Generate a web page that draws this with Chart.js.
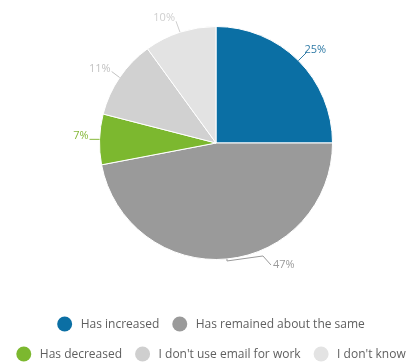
<!DOCTYPE html>
<html>
<head>
<meta charset="utf-8">
<script src="https://cdn.jsdelivr.net/npm/chart.js@4"></script>
<style>
  html, body { margin: 0; padding: 0; background: #ffffff; }
  #wrap { width: 412px; height: 363px; position: relative; }
</style>
</head>
<body>
<div id="wrap"><canvas id="c"></canvas></div>
<script>
// ---- data ----
const categories = ["Has increased", "Has remained about the same", "Has decreased", "I don't use email for work", "I don't know"];
const values = [25, 47, 7, 11, 10];
const valueLabels = ["25%", "47%", "7%", "11%", "10%"];

// ---- styles ----
const sliceColors = ["#0b6fa4", "#9a9a9a", "#7cb82f", "#d1d1d1", "#e3e3e3"];
const labelColors = ["#2f7aa6", "#9a9a9a", "#86b83a", "#c2c2c2", "#cfcfcf"];
const legendColors = ["#0b6fa4", "#9a9a9a", "#7cb82f", "#cfcfcf", "#e3e3e3"];
// leader geometry relative to the slice's outer edge at mid-angle
const leaderStyle = [
  { path: [[8, -8]], text: [6, -11, "left"] },
  { path: [[0, 2], [36, -3], [44, 6]], text: [46, 6, "left"] },
  { path: [[-10, 0]], text: [-11, -3, "right"] },
  { path: [[-8, -6]], text: [-9, -9, "right"] },
  { path: [[-4, -11]], text: [-5, -14, "right"] }
];

const sliceLabels = {
  id: "sliceLabels",
  afterDatasetsDraw(chart) {
    const ctx = chart.ctx;
    const meta = chart.getDatasetMeta(0);
    ctx.save();
    ctx.font = "11px 'Open Sans'";
    ctx.textBaseline = "middle";
    meta.data.forEach((arc, i) => {
      const p = arc.getProps(["x", "y", "startAngle", "endAngle", "outerRadius"], true);
      const mid = (p.startAngle + p.endAngle) / 2;
      const x0 = p.x + p.outerRadius * Math.cos(mid);
      const y0 = p.y + p.outerRadius * Math.sin(mid);
      const st = leaderStyle[i];
      ctx.strokeStyle = labelColors[i];
      ctx.lineWidth = 1;
      ctx.beginPath();
      ctx.moveTo(x0, y0);
      st.path.forEach(pt => ctx.lineTo(x0 + pt[0], y0 + pt[1]));
      ctx.stroke();
      ctx.fillStyle = labelColors[i];
      ctx.textAlign = st.text[2];
      ctx.fillText(valueLabels[i], x0 + st.text[0], y0 + st.text[1]);
    });
    ctx.restore();
  }
};

const customLegend = {
  id: "customLegend",
  afterDraw(chart) {
    const ctx = chart.ctx;
    const W = chart.width;
    const font = "12px 'Open Sans'";
    const r = 7.5, toText = 8.5, gap = 13, rowH = 30, firstRowY = 324, centerX = 211;
    ctx.save();
    ctx.font = font;
    const items = categories.map((t, i) => ({ t, i, w: 2 * r + toText + ctx.measureText(t).width }));
    const rows = [[]];
    let cur = 0;
    items.forEach(it => {
      const row = rows[rows.length - 1];
      const add = (row.length ? gap : 0) + it.w;
      if (row.length && cur + add > W) { rows.push([it]); cur = it.w; }
      else { row.push(it); cur += add; }
    });
    ctx.textBaseline = "middle";
    ctx.textAlign = "left";
    rows.forEach((row, ri) => {
      const total = row.reduce((s, it, k) => s + it.w + (k ? gap : 0), 0);
      let x = centerX - total / 2;
      const y = firstRowY + ri * rowH;
      row.forEach(it => {
        ctx.fillStyle = legendColors[it.i];
        ctx.beginPath();
        ctx.arc(x + r, y, r, 0, Math.PI * 2);
        ctx.fill();
        ctx.fillStyle = "#5f5f5f";
        ctx.fillText(it.t, x + 2 * r + toText, y + 1);
        x += it.w + gap;
      });
    });
    ctx.restore();
  }
};

new Chart(document.getElementById("c"), {
  type: "pie",
  data: {
    labels: categories,
    datasets: [{
      data: values,
      backgroundColor: sliceColors,
      borderColor: "#ffffff",
      borderWidth: 1
    }]
  },
  options: {
    responsive: true,
    maintainAspectRatio: false,
    animation: false,
    layout: { padding: { top: 26, bottom: 103, left: 20, right: 0 } },
    plugins: {
      legend: { display: false },
      tooltip: { enabled: false }
    }
  },
  plugins: [sliceLabels, customLegend]
});
</script>
</body>
</html>
